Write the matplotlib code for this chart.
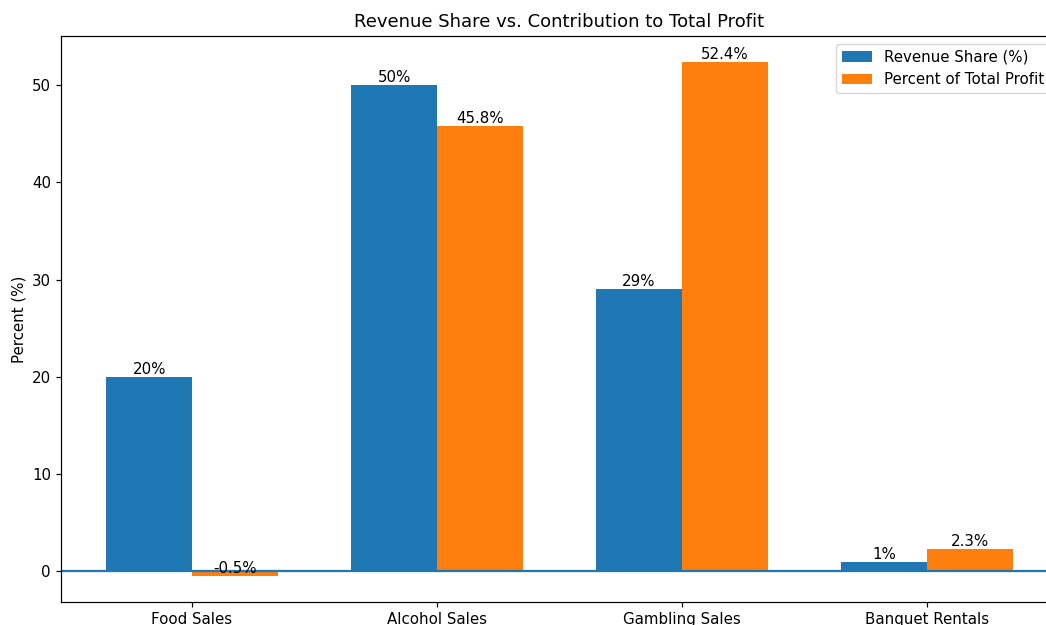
import matplotlib
matplotlib.use("Agg")
import matplotlib.pyplot as plt
import numpy as np

categories = ["Food Sales", "Alcohol Sales", "Gambling Sales", "Banquet Rentals"]
revenue_share = [20, 50, 29, 1]
profit_share = [-0.5, 45.8, 52.4, 2.3]
revenue_labels = ["20%", "50%", "29%", "1%"]
profit_labels = ["-0.5%", "45.8%", "52.4%", "2.3%"]

s = 1.08
plt.rcParams.update({
    "font.size": 10 * s,
    "axes.titlesize": 12 * s,
    "axes.linewidth": 0.8 * s,
    "xtick.major.width": 0.8 * s,
    "ytick.major.width": 0.8 * s,
    "xtick.major.size": 3.5 * s,
    "ytick.major.size": 3.5 * s,
})

fig = plt.figure(figsize=(10.46, 6.25), dpi=100)
ax = fig.add_axes([0.0583, 0.0368, 0.953, 0.9056])

x = np.arange(len(categories))
w = 0.35
ax.bar(x - w / 2, revenue_share, w, label="Revenue Share (%)", color="#1f77b4")
ax.bar(x + w / 2, profit_share, w, label="Percent of Total Profit", color="#ff7f0e")

for xi, v, lab in zip(x - w / 2, revenue_share, revenue_labels):
    ax.text(xi, v, lab, ha="center", va="bottom")
for xi, v, lab in zip(x + w / 2, profit_share, profit_labels):
    ax.text(xi, v, lab, ha="center", va="bottom")

ax.axhline(0, color="#1f77b4", linewidth=1.5 * s)
ax.set_xticks(x)
ax.set_xticklabels(categories)
ax.set_ylabel("Percent (%)")
ax.set_title("Revenue Share vs. Contribution to Total Profit", pad=6 * s)
ax.legend(loc="upper right")

fig.savefig("out.png", dpi=100)
